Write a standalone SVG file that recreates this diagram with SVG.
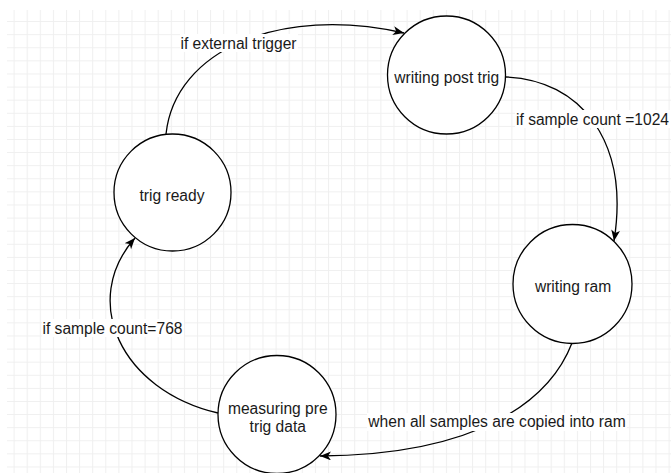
<svg xmlns="http://www.w3.org/2000/svg" width="671" height="473" viewBox="0 0 671 473">
  <defs>
    <pattern id="grid" x="0.5" y="8" width="13.1" height="13.1" patternUnits="userSpaceOnUse">
      <path d="M0,0.5 H13.1 M0.5,0 V13.1" fill="none" stroke="#efefef" stroke-width="1"/>
    </pattern>
    <marker id="arrow" markerWidth="12" markerHeight="10" refX="11" refY="4.5" orient="auto" markerUnits="userSpaceOnUse">
      <path d="M0,0 L11,4.5 L0,9 L3,4.5 Z" fill="#000"/>
    </marker>
  </defs>
  <style>
    .node circle { fill: #fff; stroke: #000; stroke-width: 1.3; }
    text { font-family: "Liberation Sans", Arial, sans-serif; font-size: 15.6px; fill: #1a1a1a; }
    .c { text-anchor: middle; }
    .edge { fill: none; stroke: #000; stroke-width: 1.3; marker-end: url(#arrow); }
    .lblbg { fill: #fff; }
  </style>
  <rect width="671" height="473" fill="#fff"/>
  <rect x="7" y="10" width="664" height="463" fill="url(#grid)"/>

  <g id="connectors">
    <path class="edge" d="M166,134 C175,50 280,5 404,33"/>
    <path class="edge" d="M506,77 C580,80 630,140 614,241"/>
    <path class="edge" d="M572,343 C550,400 480,455 320,456"/>
    <path class="edge" d="M218,413 C120,390 80,300 135,238"/>
    <rect class="lblbg" x="180" y="34" width="118" height="18"/>
    <text class="c" x="238.5" y="48.5">if external trigger</text>
    <rect class="lblbg" x="515" y="110" width="156" height="18"/>
    <text x="516" y="124.5">if sample count =1024</text>
    <rect class="lblbg" x="367" y="413" width="260" height="18"/>
    <text class="c" x="497" y="427">when all samples are copied into ram</text>
    <rect class="lblbg" x="42" y="319" width="142" height="18"/>
    <text class="c" x="112.5" y="333.5">if sample count=768</text>
  </g>

  <g id="trig-ready" class="node">
    <circle cx="172.5" cy="192.5" r="58.5"/>
    <text class="c" x="172" y="200.5">trig ready</text>
  </g>
  <g id="writing-post-trig" class="node">
    <circle cx="446.5" cy="75" r="59"/>
    <text class="c" x="446.8" y="82.5">writing post trig</text>
  </g>
  <g id="writing-ram" class="node">
    <circle cx="572.5" cy="284" r="59.5"/>
    <text class="c" x="573" y="291.5">writing ram</text>
  </g>
  <g id="measuring-pre-trig-data" class="node">
    <circle cx="277" cy="414.5" r="59"/>
    <text class="c" x="277.8" y="414">measuring pre</text>
    <text class="c" x="277.8" y="432">trig data</text>
  </g>
</svg>
